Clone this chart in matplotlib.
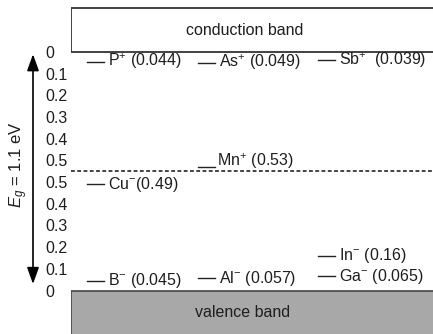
import matplotlib
matplotlib.use("Agg")
import matplotlib.pyplot as plt
from matplotlib.patches import Rectangle
from matplotlib.transforms import blended_transform_factory

plt.rcParams['font.family'] = ['Liberation Sans', 'DejaVu Sans']
plt.rcParams['mathtext.fontset'] = 'custom'
plt.rcParams['mathtext.rm'] = 'Liberation Sans'
plt.rcParams['mathtext.it'] = 'Liberation Sans:italic'
plt.rcParams['mathtext.default'] = 'regular'

# band gap of Si (eV)
gap = 1.1

# donor levels, depth below conduction band (eV)
donor_labels = ['P$^{+}$ (0.044)', 'As$^{+}$ (0.049)', 'Sb$^{+}$  (0.039)', 'Mn$^{+}$ (0.53)']
donor_depth = [0.044, 0.049, 0.039, 0.53]
donor_col = [0, 1, 2, 1]

# acceptor levels, height above valence band (eV)
acc_labels = ['B$^{-}$ (0.045)', 'Al$^{-}$ (0.057)', 'Ga$^{-}$ (0.065)', 'In$^{-}$ (0.16)', 'Cu$^{-}$(0.49)']
acc_height = [0.045, 0.057, 0.065, 0.16, 0.49]
acc_col = [0, 1, 2, 2, 0]

tick_pos = [0, 0.1, 0.2, 0.3, 0.4, 0.5, 0.6, 0.7, 0.8, 0.9, 1.0, 1.1]
tick_lab = ['0', '0.1', '0.2', '0.3', '0.4', '0.5', '0.5', '0.4', '0.3', '0.2', '0.1', '0']

col_x = [0.044, 0.351, 0.682]
line_len = 0.047
txt_col = '#1e1e1e'
fs = 11.5

fig = plt.figure(figsize=(4.33, 3.34), dpi=100)
ax = fig.add_axes([71 / 433, 0, 1 - 71 / 433, 1])
ax.set_xlim(0, 1)
ax.set_ylim(-0.2006, 1.34)
for s in ax.spines.values():
    s.set_visible(False)
ax.set_xticks([])
ax.set_yticks(tick_pos)
ax.set_yticklabels(tick_lab)
ax.tick_params(axis='y', length=0, pad=18.5, labelsize=fs, labelcolor=txt_col)
for t in ax.get_yticklabels():
    t.set_horizontalalignment('left')

# bands
ax.add_patch(Rectangle((0, gap), 1.2, 1.303 - gap, facecolor='white',
                       edgecolor='#333333', lw=1.3))
ax.add_patch(Rectangle((0, -0.3), 1.2, 0.3, facecolor='#a8a8a8',
                       edgecolor='#444444', lw=1.2))
ax.text(0.48, (gap + 1.303) / 2, 'conduction band', ha='center', va='center',
        fontsize=fs, color=txt_col)
ax.text(0.475, -0.1, 'valence band', ha='center', va='center',
        fontsize=fs, color=txt_col)

# midgap
ax.axhline(gap / 2, color='#111111', lw=1.1, ls=(0, (2.5, 1.6)))

# donors
for lab, d, c in zip(donor_labels, donor_depth, donor_col):
    y = gap - d
    x0 = col_x[c]
    ax.plot([x0, x0 + line_len], [y, y], color='#222222', lw=1)
    if d > 0.3:
        ax.text(x0 + line_len + 0.005, y + 0.005, lab, ha='left', va='baseline',
                fontsize=fs, color=txt_col)
    else:
        ax.text(x0 + line_len + 0.01, y, lab, ha='left', va='center',
                fontsize=fs, color=txt_col)

# acceptors
for lab, h, c in zip(acc_labels, acc_height, acc_col):
    x0 = col_x[c]
    ax.plot([x0, x0 + line_len], [h, h], color='#222222', lw=1)
    ax.text(x0 + line_len + 0.01, h, lab, ha='left', va='center',
            fontsize=fs, color=txt_col)

# gap arrow and label
tr = blended_transform_factory(fig.transFigure, ax.transData)
ax.annotate('', xy=(33 / 433, 1.09), xytext=(33 / 433, 0.03), xycoords=tr,
            textcoords=tr, annotation_clip=False,
            arrowprops=dict(arrowstyle='<|-|>,head_length=0.5,head_width=0.18',
                            mutation_scale=20, color='black', lw=1.2,
                            shrinkA=0, shrinkB=0))
ax.text(19 / 433, 0.58, '$\\mathit{E_g}$ = 1.1 eV', transform=tr, rotation=90,
        ha='center', va='center', fontsize=12, color=txt_col)

fig.savefig('out.png', dpi=100)
